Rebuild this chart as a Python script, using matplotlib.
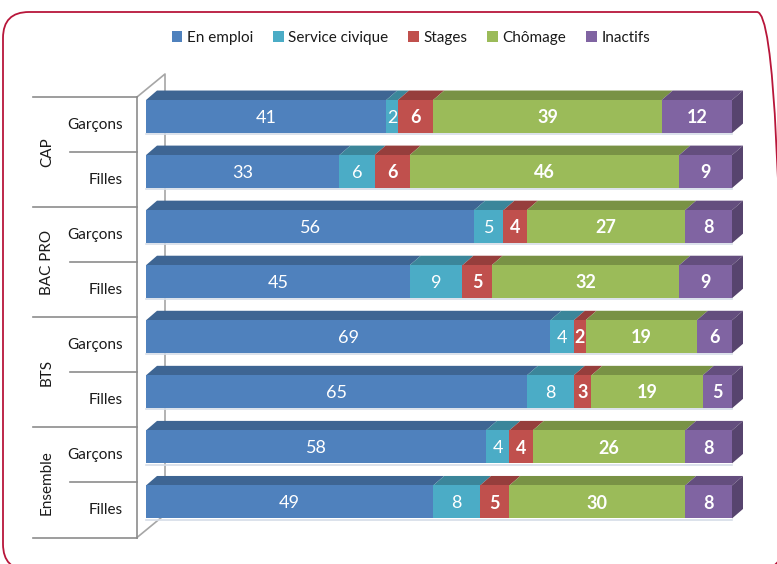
import matplotlib.pyplot as plt
import matplotlib.transforms as mtransforms
from matplotlib.patches import Polygon, Rectangle, FancyBboxPatch
from matplotlib.colors import to_rgb

# --- DONNEES ---
groups = ['CAP', 'BAC PRO', 'BTS', 'Ensemble']
sexes = ['Garçons', 'Filles']
series = ['En emploi', 'Service civique', 'Stages', 'Chômage', 'Inactifs']
en_emploi = [41, 33, 56, 45, 69, 65, 58, 49]
service_civique = [2, 6, 5, 9, 4, 8, 4, 8]
stages = [6, 6, 4, 5, 2, 3, 4, 5]
chomage = [39, 46, 27, 32, 19, 19, 26, 30]
inactifs = [12, 9, 8, 9, 6, 5, 8, 8]

colors = ['#4F81BD', '#4BACC6', '#C0504D', '#9BBB59', '#8064A2']
bold_labels = [False, False, True, True, True]

plt.rcParams['font.family'] = ['Lato', 'DejaVu Sans']

W, H = 777, 564
fig = plt.figure(figsize=(W / 100, H / 100), dpi=100)


def px_box(x0, y0, x1, y1):
    """Position d'axes a partir de pixels (origine en haut a gauche)."""
    return [x0 / W, 1 - y1 / H, (x1 - x0) / W, (y1 - y0) / H]


def shade(c, f):
    r, g, b = to_rgb(c)
    return (r * f, g * f, b * f)


# zone des faces avant des barres
AX_PX = (146, 89, 732, 529.5)
ax = fig.add_axes(px_box(*AX_PX))
n = len(en_emploi)
ax.set_xlim(0, 100)
ax.set_ylim(n - 0.5, -0.5)
ax.axis('off')

px_x = (AX_PX[2] - AX_PX[0]) / 100.0
px_y = (AX_PX[3] - AX_PX[1]) / n
dx = 11 / px_x      # profondeur 3D
dy = 9.5 / px_y
bar_h = 33 / px_y
shift = 8 / px_y    # decalage de l'axe des categories

# --- MUR ARRIERE / AXE ---
trans = mtransforms.blended_transform_factory(fig.transFigure, ax.transData)
wall_dy = 23 / px_y
x_axis = 137 / W
x_wall = 165 / W
line_kw = dict(transform=trans, clip_on=False, zorder=0)
ax.plot([x_axis, x_wall, x_wall, x_axis],
        [-0.5 + shift, -0.5 + shift - wall_dy, n - 0.5 + shift - wall_dy, n - 0.5 + shift],
        color='#a6a6a6', lw=1.2, **line_kw)
ax.plot([x_axis, x_axis], [-0.5 + shift, n - 0.5 + shift], color='#8c8c8c', lw=1.2, **line_kw)

# lignes des groupes et sous-categories
for g in range(len(groups) + 1):
    yb = g * 2 - 0.5 + shift
    ax.plot([33 / W, x_axis], [yb, yb], color='#8c8c8c', lw=1.2, **line_kw)
for g in range(len(groups)):
    yb = g * 2 + 0.5 + shift
    ax.plot([70 / W, x_axis], [yb, yb], color='#8c8c8c', lw=1.2, **line_kw)
    ax.text(47 / W, g * 2 + 0.5 + shift, groups[g], rotation=90, ha='center', va='center',
            fontsize=11, color='#1a1a1a', transform=trans)
    for s, lab in enumerate(sexes):
        ax.text(123 / W, g * 2 + s + shift, lab, ha='right', va='center',
                fontsize=11, color='#1a1a1a', transform=trans)

# --- BARRES 3D ---
values = [en_emploi, service_civique, stages, chomage, inactifs]
for i in range(n):
    left = 0
    ytop = i - bar_h / 2
    ybot = i + bar_h / 2
    for k, vals in enumerate(values):
        v = vals[i]
        x0, x1 = left, left + v
        ax.add_patch(Polygon([(x0, ytop), (x1, ytop), (x1 + dx, ytop - dy), (x0 + dx, ytop - dy)],
                             closed=True, facecolor=shade(colors[k], 0.78), edgecolor='none',
                             clip_on=False, zorder=2))
        ax.add_patch(Rectangle((x0, ytop), v, bar_h, facecolor=colors[k], edgecolor='none',
                               clip_on=False, zorder=3))
        ax.text(x0 + v / 2, i + 0.02, str(v), ha='center', va='center', color='white',
                fontsize=13, fontweight='bold' if bold_labels[k] else 'normal', zorder=5)
        left = x1
    # face laterale droite
    ax.add_patch(Polygon([(left, ytop), (left + dx, ytop - dy), (left + dx, ybot - dy), (left, ybot)],
                         closed=True, facecolor=shade(colors[-1], 0.68), edgecolor='none',
                         clip_on=False, zorder=2))
    # reflet clair sous la barre
    ax.plot([0, left], [ybot + 0.02, ybot + 0.02], color='#d6dde8', lw=1.2,
            clip_on=False, zorder=1)

# --- LEGENDE ---
handles = [Rectangle((0, 0), 1, 1, facecolor=c, edgecolor='none') for c in colors]
fig.legend(handles, series, loc='center', bbox_to_anchor=(411 / W, 1 - 38 / H), ncol=5,
           frameon=False, handlelength=0.7, handleheight=0.7, handletextpad=0.3,
           columnspacing=1.3, fontsize=11, labelcolor='#1a1a1a')

# --- CADRE ARRONDI ---
frame = FancyBboxPatch((3, -6), 780, H - 12 + 6, boxstyle='round,pad=0,rounding_size=26',
                       transform=None, facecolor='none', edgecolor='#B8163A', lw=1.3)
fig.add_artist(frame)

fig.savefig('out.png', dpi=100)
